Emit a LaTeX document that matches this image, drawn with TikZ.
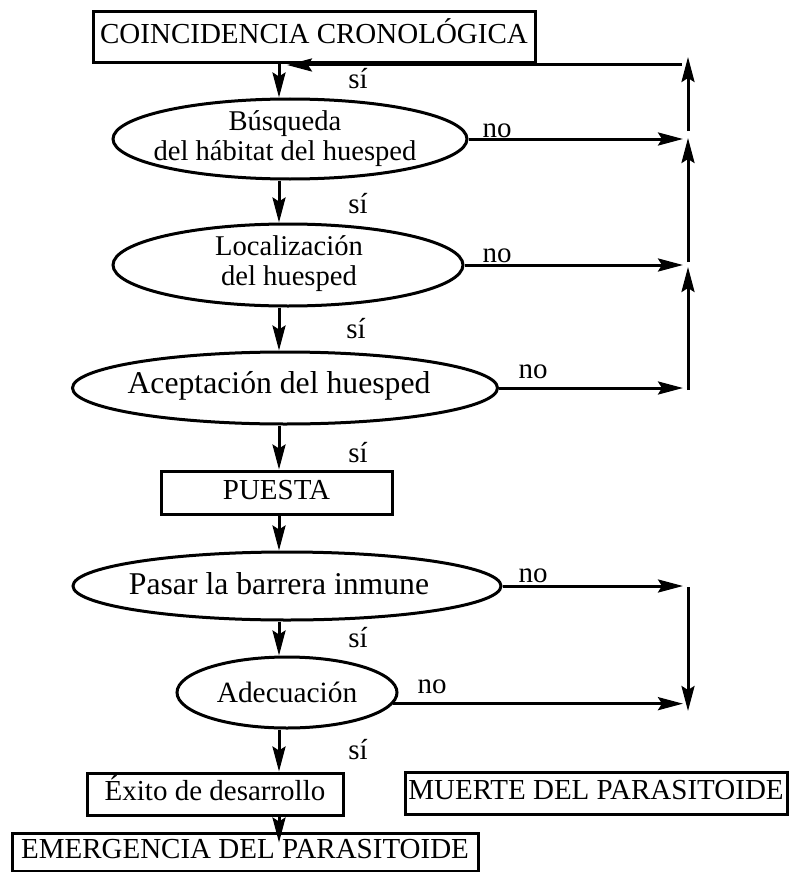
\documentclass[tikz,border=0pt]{standalone}
\usepackage{fontspec}
\setmainfont{Liberation Serif}
\usetikzlibrary{shapes.geometric,arrows.meta}
\newcommand{\boxfont}{\fontsize{29}{33}\selectfont}
\newcommand{\ovalfont}{\fontsize{28.6}{30}\selectfont}
\newcommand{\ovalbigfont}{\fontsize{31.7}{34}\selectfont}
\tikzstyle{box}=[rectangle, draw, line width=3pt, inner sep=0pt, font=\boxfont, text height=19pt, text depth=6pt]
\tikzstyle{oval}=[ellipse, draw, line width=3pt, inner sep=0pt]
\tikzstyle{ovaltext}=[align=center, font=\ovalfont, inner sep=0pt]
\tikzstyle{answer}=[font=\boxfont, inner sep=0pt, anchor=base]
\tikzstyle{flow}=[-{Stealth[length=25pt,width=13pt,inset=4pt]}, line width=3pt]

\begin{document}
\begin{tikzpicture}[x=1pt,y=-1pt]
  \useasboundingbox (0,0) rectangle (789,872);
  \coordinate (axis) at (279,0);
  \coordinate (noend) at (683,0);

  %% main column
  \draw (314,37.5) node[box,minimum width=442pt,minimum height=51pt] (coinc) {COINCIDENCIA CRONOLÓGICA};
  \draw (290,139) node[oval,minimum width=354pt,minimum height=80pt] (E1) {};
  \draw (285,139) node[ovaltext] (T1) {Búsqueda\\del hábitat del huesped};
  \draw (288,265) node[oval,minimum width=350pt,minimum height=82pt] (E2) {};
  \draw (289,264) node[ovaltext] (T2) {Localización\\del huesped};
  \draw (285,388) node[oval,minimum width=425pt,minimum height=72pt] (E3) {};
  \draw (279,386) node[ovaltext,font=\ovalbigfont] (T3) {Aceptación del huesped};
  \draw (287,586) node[oval,minimum width=428pt,minimum height=68pt] (E4) {};
  \draw (279,584) node[ovaltext,font=\ovalbigfont] (T4) {Pasar la barrera inmune};
  \draw (287,692.5) node[oval,minimum width=220pt,minimum height=71pt] (E5) {};
  \draw (287,692) node[ovaltext,font=\fontsize{29.4}{30}\selectfont] (T5) {Adecuación};
  \draw (276.5,492.5) node[box,minimum width=231pt,minimum height=43pt] (puesta) {PUESTA};
  \draw (215,794) node[box,minimum width=256pt,minimum height=42pt] (exito) {Éxito de desarrollo};
  \draw (596,793) node[box,minimum width=382pt,minimum height=42pt] (muerte) {MUERTE DEL PARASITOIDE};
  \draw (245,852) node[box,minimum width=466pt,minimum height=38pt] (emerg) {EMERGENCIA DEL PARASITOIDE};
  \path (emerg.north -| axis) ++(0,11) coordinate (emergin);

  \draw[flow] (coinc.south -| axis) -- (E1.north -| axis);
  \draw[flow] (E1.south -| axis) -- (E2.north -| axis);
  \draw[flow] (E2.south -| axis) -- (E3.north -| axis);
  \draw[flow] (E3.south -| axis) -- (puesta.north -| axis);
  \draw[flow] (puesta.south -| axis) -- (E4.north -| axis);
  \draw[flow] (E4.south -| axis) -- (E5.north -| axis);
  \draw[flow] (E5.south -| axis) -- (exito.north -| axis);
  \draw[flow] (exito.south -| axis) -- (emergin);

  \draw (358,89) node[answer] (s1) {sí};
  \draw (358,213) node[answer] (s2) {sí};
  \draw (356,338) node[answer] (s3) {sí};
  \draw (358,462) node[answer] (s4) {sí};
  \draw (358,647) node[answer] (s5) {sí};
  \draw (358,759) node[answer] (s6) {sí};

  %% the no branches
  \draw[flow] (E1.east) -- (E1.east -| noend);
  \draw[flow] (E2.east) -- (E2.east -| noend);
  \draw[flow] (E3.east) -- (E3.east -| noend);
  \draw[flow] (E4.east) -- (E4.east -| noend);
  \draw[flow] (E5.-6) -- (E5.-6 -| noend);

  \draw (497,137) node[answer] (n1) {no};
  \draw (497,262) node[answer] (n2) {no};
  \draw (533,378) node[answer] (n3) {no};
  \draw (533,582) node[answer] (n4) {no};
  \draw (432,693) node[answer] (n5) {no};

  %% back to the top
  \coordinate (a1) at (688,390);
  \coordinate (b1) at (688,267);
  \coordinate (a2) at (688,262);
  \coordinate (b2) at (688,138);
  \coordinate (a3) at (688,131);
  \coordinate (b3) at (688,57);
  \coordinate (ret) at (682,65);
  \coordinate (back) at (287,65);
  \draw[flow] (a1) -- (b1);
  \draw[flow] (a2) -- (b2);
  \draw[flow] (a3) -- (b3);
  \draw[flow] (ret) -- (back);

  %% down to the death
  \coordinate (d1) at (688,587);
  \coordinate (d2) at (688,711);
  \draw[flow] (d1) -- (d2);
\end{tikzpicture}
\end{document}
